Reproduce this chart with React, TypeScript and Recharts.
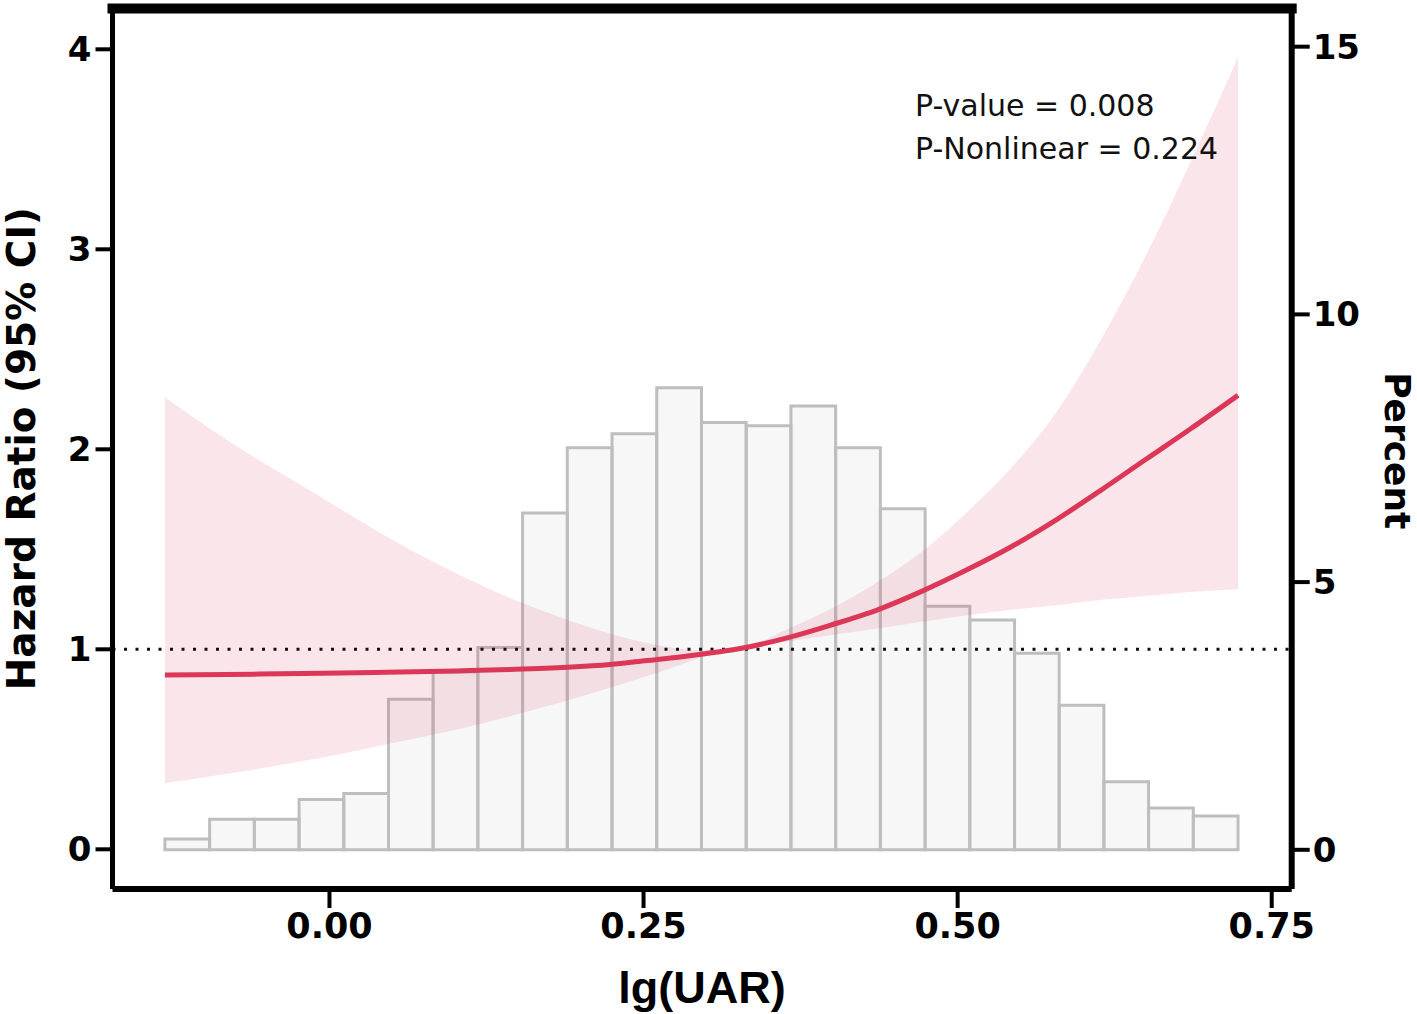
import {
  ComposedChart,
  Area,
  Line,
  XAxis,
  YAxis,
  ReferenceArea,
  ReferenceLine,
  ReferenceDot,
} from 'recharts'

// restricted cubic spline: lg(UAR) vs hazard ratio, with 95% CI
const curveX = [
  -0.131, -0.0824, -0.0211, 0.0091, 0.0561, 0.1007, 0.1437, 0.1891, 0.2233, 0.2528, 0.279,
  0.2989, 0.3236, 0.3659, 0.3985, 0.4373, 0.47, 0.5082, 0.5416, 0.5791, 0.6133, 0.6499, 0.6849,
  0.7232,
]
const hazardRatio = [
  0.871, 0.874, 0.879, 0.882, 0.886, 0.892, 0.899, 0.91, 0.924, 0.944, 0.962, 0.978, 1.0, 1.06,
  1.12, 1.2, 1.286, 1.4, 1.509, 1.65, 1.792, 1.95, 2.1, 2.27,
]
const ciLower = [
  0.33, 0.376, 0.441, 0.477, 0.539, 0.598, 0.665, 0.744, 0.808, 0.866, 0.922, 0.965, 1.0, 1.04,
  1.07, 1.105, 1.137, 1.17, 1.197, 1.22, 1.246, 1.266, 1.286, 1.3,
]
const ciUpper = [
  2.26, 2.05, 1.815, 1.7, 1.526, 1.38, 1.256, 1.148, 1.079, 1.031, 1.003, 0.995, 1.0, 1.105, 1.2,
  1.34, 1.48, 1.69, 1.9, 2.19, 2.54, 2.97, 3.43, 3.96,
]

// histogram of lg(UAR), percent per bin
const binEdges = [
  -0.131, -0.0954, -0.0598, -0.0242, 0.0114, 0.047, 0.0825, 0.1181, 0.1537, 0.1893, 0.2249,
  0.2605, 0.2961, 0.3317, 0.3673, 0.4029, 0.4385, 0.4741, 0.5097, 0.5453, 0.5808, 0.6164, 0.652,
  0.6876, 0.7232,
]
const binPercent = [
  0.2, 0.57, 0.57, 0.94, 1.05, 2.81, 3.32, 3.78, 6.29, 7.51, 7.77, 8.63, 7.98, 7.92, 8.29, 7.51,
  6.37, 4.55, 4.29, 3.67, 2.7, 1.27, 0.78, 0.63,
]

const xTicks = [0, 0.25, 0.5, 0.75]
const hrTicks = [0, 1, 2, 3, 4]
const pctTicks = [0, 5, 10, 15]

const X_DOMAIN = [-0.1727, 0.7659]
const HR_DOMAIN = [-0.1985, 4.204]
const PCT_DOMAIN = [-0.732, 15.713]

const pValueText = 'P-value = 0.008'
const pNonlinearText = 'P-Nonlinear = 0.224'

const chartData = curveX.map((x, i) => ({
  x,
  hr: hazardRatio[i],
  ci: [ciLower[i], ciUpper[i]],
}))

const bold = { fill: '#000', fontFamily: 'DejaVu Sans', fontWeight: 'bold' }

function PValues(props: any) {
  const { cx, cy } = props
  return (
    <text x={cx} y={cy} fontFamily="DejaVu Sans" fontSize={30} fill="#111">
      <tspan x={cx}>{pValueText}</tspan>
      <tspan x={cx} dy={43.5}>
        {pNonlinearText}
      </tspan>
    </text>
  )
}

export default function App() {
  return (
    <div style={{ position: 'absolute', left: 0, top: 0, background: '#fff' }}>
      <ComposedChart
        width={1417}
        height={1014}
        data={chartData}
        margin={{ top: 8.5, right: 0, bottom: 0, left: 0 }}
      >
        <XAxis
          dataKey="x"
          type="number"
          domain={X_DOMAIN}
          allowDataOverflow
          ticks={xTicks}
          interval={0}
          tickFormatter={(v) => Number(v).toFixed(2)}
          height={125}
          axisLine={{ stroke: '#000', strokeWidth: 6 }}
          tickLine={{ stroke: '#000', strokeWidth: 4 }}
          tickSize={19}
          tickMargin={5}
          tick={{ ...bold, fontSize: 35 }}
          label={{
            value: 'lg(UAR)',
            position: 'insideBottom',
            offset: 11,
            fill: '#000',
            fontFamily: 'Liberation Sans',
            fontWeight: 'bold',
            fontSize: 45,
          }}
        />
        <YAxis
          yAxisId="hr"
          type="number"
          domain={HR_DOMAIN}
          allowDataOverflow
          ticks={hrTicks}
          interval={0}
          width={112.5}
          axisLine={{ stroke: '#000', strokeWidth: 5 }}
          tickLine={{ stroke: '#000', strokeWidth: 4 }}
          tickSize={17}
          tickMargin={4}
          tick={{ ...bold, fontSize: 34 }}
          label={{
            value: 'Hazard Ratio (95% CI)',
            angle: -90,
            position: 'center',
            dx: -35,
            ...bold,
            fontSize: 39,
          }}
        />
        <YAxis
          yAxisId="pct"
          orientation="right"
          type="number"
          domain={PCT_DOMAIN}
          allowDataOverflow
          ticks={pctTicks}
          interval={0}
          width={125.3}
          axisLine={{ stroke: '#000', strokeWidth: 6 }}
          tickLine={{ stroke: '#000', strokeWidth: 4 }}
          tickSize={18}
          tickMargin={3}
          tick={{ ...bold, fontSize: 34 }}
          label={{
            value: 'Percent',
            angle: 90,
            position: 'center',
            dx: 43,
            dy: 2,
            ...bold,
            fontSize: 36,
          }}
        />

        {binPercent.map((p, i) => (
          <ReferenceArea
            key={i}
            yAxisId="pct"
            x1={binEdges[i]}
            x2={binEdges[i + 1]}
            y1={0}
            y2={p}
            fill="#d9d5d9"
            fillOpacity={0.2}
            stroke="#bebebe"
            strokeWidth={3}
          />
        ))}

        <Area
          yAxisId="hr"
          dataKey="ci"
          type="monotone"
          stroke="none"
          fill="#dc3a5a"
          fillOpacity={0.13}
          isAnimationActive={false}
          activeDot={false}
        />

        <ReferenceLine
          yAxisId="hr"
          y={1}
          stroke="#111"
          strokeWidth={3}
          strokeDasharray="3 8.5"
        />

        <Line
          yAxisId="hr"
          dataKey="hr"
          type="monotone"
          stroke="#dc3757"
          strokeWidth={5}
          dot={false}
          activeDot={false}
          isAnimationActive={false}
        />

        <ReferenceLine
          yAxisId="hr"
          y={HR_DOMAIN[1]}
          stroke="#000"
          strokeWidth={10}
          strokeLinecap="square"
        />

        <ReferenceDot yAxisId="hr" x={0.4661} y={3.668} r={1} shape={PValues} />
      </ComposedChart>
    </div>
  )
}
